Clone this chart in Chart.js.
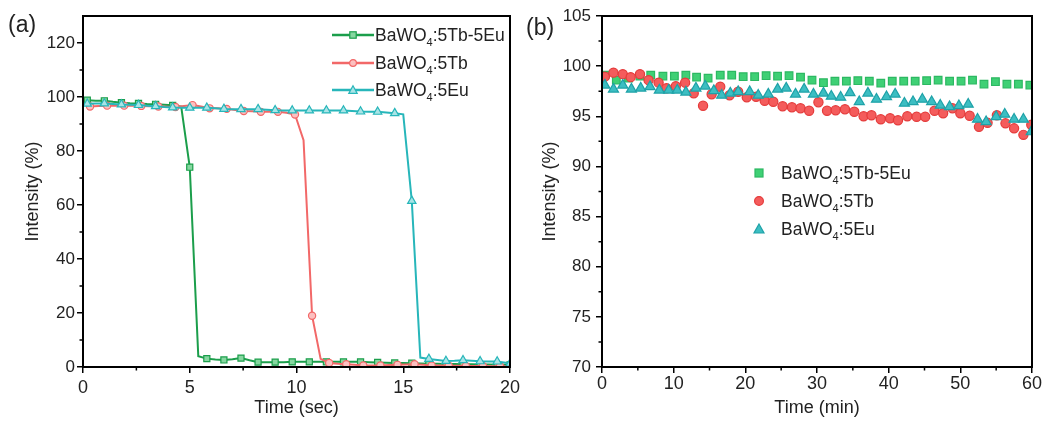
<!DOCTYPE html>
<html>
<head>
<meta charset="utf-8">
<script src="https://cdn.jsdelivr.net/npm/chart.js@4"></script>
<style>
  body { margin: 0; background: #fff; font-family: "Liberation Sans", Arial, sans-serif; }
  #wrap { position: relative; width: 1044px; height: 421px; overflow: hidden; }
  .panel { position: absolute; top: 0; width: 522px; height: 421px; }
  .tag { position: absolute; font-size: 23px; color: #222; }
  .leg { position: absolute; font-size: 17.5px; color: #222; white-space: nowrap; line-height: 20px; }
  .leg svg { vertical-align: middle; }
  .leg span.t { display: inline-block; vertical-align: middle; }
  .leg sub { font-size: 11px; vertical-align: -5px; line-height: 0; }
</style>
</head>
<body>
<div id="wrap">
  <div class="panel" style="left:0"><canvas id="chartA"></canvas></div>
  <div class="panel" style="left:522px"><canvas id="chartB"></canvas></div>
  <div class="tag" style="left:8px;top:11px">(a)</div>
  <div class="tag" style="left:526px;top:14px">(b)</div>
  <div id="legA"></div>
  <div id="legB"></div>
</div>
<script>
// ---- panel (a): switching time, seconds ----
var timeA = [0.2,0.6,1.0,1.4,1.8,2.2,2.6,3.0,3.4,3.8,4.2,4.6,5.0,5.4,5.8,6.2,6.6,7.0,7.4,7.8,
  8.2,8.6,9.0,9.4,9.8,10.2,10.6,11.0,11.4,11.8,12.2,12.6,13.0,13.4,13.8,14.2,14.6,15.0,15.4,15.8,
  16.2,16.6,17.0,17.4,17.8,18.2,18.6,19.0,19.4,19.8,20.0];
var timeRed = [0.33,0.73,1.13,1.53,1.93,2.33,2.73,3.13,3.53,3.93,4.33,4.73,5.13,5.53,5.93,6.33,6.73,7.13,7.53,7.93,
  8.33,8.73,9.13,9.53,9.93,10.33,10.73,11.13,11.53,11.93,12.33,12.73,13.13,13.53,13.93,14.33,14.73,15.13,15.53,15.93,
  16.33,16.73,17.13,17.53,17.93,18.33,18.73,19.13,19.53,19.93];
var tbEuA = [98.8,98.6,98.6,98.2,97.9,97.7,97.6,97.4,97.3,97.1,96.9,96.4,74,4,3.1,2.8,2.6,2.9,3.3,2.5,
  1.8,1.8,1.8,1.8,1.9,1.9,1.9,1.9,1.9,1.9,1.9,1.9,1.9,1.8,1.7,1.6,1.5,1.5,1.4,1.3,
  1.2,1.2,1.1,1.1,1.0,1.0,0.9,0.9,0.8,0.8,0.8];
var tbA = [96.5,96.7,96.8,96.8,96.8,96.8,96.7,96.6,96.5,96.4,96.3,96.7,97.0,96.5,95.8,95.8,95.6,95.2,94.8,94.7,
  94.5,94.5,94.5,94.2,93.5,84,19,3,1.5,1.2,1.0,0.8,0.6,0.6,0.6,0.7,0.8,0.9,1.0,0.8,
  0.6,0.6,0.5,0.5,0.4,0.4,0.4,0.3,0.3,0.3];
var euA = [97.5,97.6,97.6,97.4,97.2,97.1,97.0,96.8,96.6,96.3,96.1,96.0,96.0,96.0,96.0,95.8,95.6,95.5,95.5,95.5,
  95.5,95.3,95.1,95.0,95.0,95.0,95.0,95.0,95.0,95.0,95.0,94.8,94.6,94.5,94.5,94.3,94.0,93.6,61.5,3.5,
  3.0,2.6,2.2,2.3,2.5,2.3,2.1,2.0,2.0,1.6,1.2];

// ---- panel (b): stability, minutes ----
var tbEuTimeB = [0.4,2.0,3.7,5.3,6.8,8.5,10.1,11.7,13.2,14.8,16.5,18.1,19.7,21.3,22.9,24.5,26.1,27.7,29.3,30.9,
  32.5,34.1,35.7,37.3,38.9,40.5,42.1,43.7,45.3,46.9,48.5,50.1,51.7,53.3,54.9,56.5,58.1,59.7];
var tbEuB = [99.1,98.6,98.8,99.0,99.1,99.0,99.0,99.1,98.9,98.8,99.1,99.1,98.95,98.95,99.05,99.0,99.05,98.9,98.6,98.35,
  98.5,98.5,98.55,98.5,98.3,98.5,98.5,98.5,98.55,98.6,98.5,98.5,98.6,98.2,98.45,98.2,98.2,98.1];
var tbTimeB = [0.4,1.6,2.9,4.0,5.3,6.5,7.9,9.0,10.3,11.6,12.8,14.1,15.3,16.5,17.8,19.0,20.2,21.5,22.7,23.9,
  25.2,26.5,27.7,28.9,30.2,31.4,32.6,33.9,35.2,36.5,37.6,38.9,40.2,41.3,42.6,43.9,45.1,46.4,47.6,48.9,
  50.0,51.3,52.6,53.8,55.1,56.3,57.5,58.8,59.9];
var tbB = [98.95,99.35,99.2,98.9,99.2,98.6,98.35,97.8,98.0,98.35,97.3,96.05,97.2,97.95,97.1,97.45,96.9,96.95,96.55,96.45,
  96.0,95.9,95.8,95.55,96.4,95.55,95.6,95.7,95.45,95.0,95.1,94.7,94.8,94.6,95.0,94.95,94.95,95.55,95.3,95.8,
  95.3,95.05,93.95,94.35,95.1,94.3,93.8,93.15,94.15];
var euTimeB = [0.4,1.6,2.9,4.1,5.4,6.7,8.0,9.3,10.5,11.7,13.1,14.4,15.6,16.7,17.9,19.0,20.6,21.8,23.2,24.5,
  25.7,27.0,28.2,29.5,30.9,32.0,33.3,34.6,35.9,37.1,38.3,39.7,40.9,42.2,43.4,44.7,46.0,47.2,48.5,49.8,
  51.1,52.4,53.6,55.0,56.2,57.5,58.8,59.9];
var euB = [98.1,97.7,98.1,97.7,97.8,97.95,97.6,97.6,97.6,97.4,97.8,98.0,97.55,97.1,97.3,97.45,97.45,97.1,97.2,97.7,
  97.8,97.2,97.7,97.2,97.3,97.0,96.9,97.35,96.45,97.3,96.7,96.95,97.2,96.3,96.45,96.7,96.45,96.1,95.95,96.05,
  96.2,94.7,94.45,94.95,95.2,94.7,94.7,93.45];

var names = ['5Tb-5Eu', '5Tb', '5Eu'];

function pts(xs, ys) {
  return ys.map(function(v, i) { return {x: xs[i], y: v}; });
}

var FONT = '"Liberation Sans", Arial, sans-serif';
var INK = '#222';

// minor ticks + closed frame, Origin style
var frame = {
  id: 'frame',
  afterDraw: function(chart, args, opts) {
    var ctx = chart.ctx, a = chart.chartArea;
    var xs = chart.scales.x, ys = chart.scales.y;
    ctx.save();
    ctx.strokeStyle = '#000';
    ctx.lineWidth = 1.5;
    ctx.beginPath();
    for (var v = xs.min + opts.xMinor; v < xs.max; v += opts.xMinor * 2) {
      var p = xs.getPixelForValue(v);
      ctx.moveTo(p, a.bottom); ctx.lineTo(p, a.bottom + 3.5);
    }
    for (var w = ys.min + opts.yMinor; w < ys.max; w += opts.yMinor * 2) {
      var q = ys.getPixelForValue(w);
      ctx.moveTo(a.left, q); ctx.lineTo(a.left - 3.5, q);
    }
    ctx.stroke();
    ctx.lineWidth = 2;
    ctx.strokeRect(a.left, a.top, a.right - a.left, a.bottom - a.top);
    ctx.restore();
  }
};

function axes(o) {
  return {
    x: {
      type: 'linear', min: o.xmin, max: o.xmax,
      ticks: {stepSize: o.xstep, color: INK, font: {family: FONT, size: 18}, padding: o.xPad, includeBounds: false},
      grid: {drawOnChartArea: false, color: '#000', lineWidth: 1.5, tickLength: 6},
      border: {color: '#000', width: 2},
      title: {display: true, text: o.xtitle, color: INK, font: {family: FONT, size: 18}, padding: {top: 0, bottom: 2}},
      afterFit: function(s) { s.height = 54; s.paddingLeft = 0; s.paddingRight = 0; }
    },
    y: {
      type: 'linear', min: o.ymin, max: o.ymax,
      ticks: {stepSize: o.ystep, color: INK, font: {family: FONT, size: 17}, padding: o.yPad, includeBounds: false},
      grid: {drawOnChartArea: false, color: '#000', lineWidth: 1.5, tickLength: 6},
      border: {color: '#000', width: 2},
      title: {display: true, text: 'Intensity (%)', color: INK, font: {family: FONT, size: 18}, padding: {top: o.titlePad, bottom: 0}},
      afterFit: function(s) { s.width = o.yWidth; s.paddingTop = 0; s.paddingBottom = 0; }
    }
  };
}

var lineCol = ['#1b9e4b', '#f26868', '#27b6ba'];
var lineFill = ['#86d7a0', '#fcc0c0', '#a9e4e6'];
var shapes = ['rect', 'circle', 'triangle'];
var radA = [4.3, 3.6, 4.8];

function markerEvery2(r) {
  return function(c) { return c.dataIndex % 2 === 0 ? r : 0; };
}

var seriesA = [pts(timeA, tbEuA), pts(timeRed, tbA), pts(timeA, euA)];

new Chart(document.getElementById('chartA'), {
  type: 'scatter',
  data: {
    datasets: seriesA.map(function(d, i) {
      return {
        label: 'BaWO4:' + names[i],
        data: d,
        showLine: true,
        borderColor: lineCol[i],
        borderWidth: 2,
        pointStyle: shapes[i],
        pointRadius: markerEvery2(radA[i]),
        pointBackgroundColor: lineFill[i],
        pointBorderColor: lineCol[i],
        pointBorderWidth: 1.2,
        order: 3 - i
      };
    })
  },
  options: {
    responsive: true, maintainAspectRatio: false, animation: false, events: [],
    layout: {padding: {top: 16, right: 12, left: 0, bottom: 0}},
    scales: axes({xmin: 0, xmax: 20, xstep: 5, xtitle: 'Time (sec)', xPad: 4,
                  ymin: 0, ymax: 130, ystep: 20, yPad: 2, yWidth: 83, titlePad: 22}),
    plugins: {legend: {display: false}, tooltip: {enabled: false}, frame: {xMinor: 2.5, yMinor: 10}}
  },
  plugins: [frame]
});

var dotFill = ['#3fd075', '#f45c5c', '#3cbec2'];
var dotLine = ['#2cb862', '#e53b3b', '#1ea2a8'];
var radB = [5.4, 4.6, 5.8];
var seriesB = [pts(tbEuTimeB, tbEuB), pts(tbTimeB, tbB), pts(euTimeB, euB)];

new Chart(document.getElementById('chartB'), {
  type: 'scatter',
  data: {
    datasets: seriesB.map(function(d, i) {
      return {
        label: 'BaWO4:' + names[i],
        data: d,
        pointStyle: shapes[i],
        pointRadius: radB[i],
        backgroundColor: dotFill[i],
        borderColor: dotLine[i],
        borderWidth: 1.2,
        order: 3 - i
      };
    })
  },
  options: {
    responsive: true, maintainAspectRatio: false, animation: false, events: [],
    layout: {padding: {top: 16, right: 12, left: 0, bottom: 0}},
    scales: axes({xmin: 0, xmax: 60, xstep: 10, xtitle: 'Time (min)', xPad: 0,
                  ymin: 70, ymax: 105, ystep: 5, yPad: 5, yWidth: 80, titlePad: 17}),
    plugins: {legend: {display: false}, tooltip: {enabled: false}, frame: {xMinor: 5, yMinor: 2.5}}
  },
  plugins: [frame]
});

// legends as html text so the subscript 4 can be set properly
function markerSvg(i, withLine, r, fill, stroke) {
  var w = withLine ? 42 : 16, c = w / 2, s = '';
  if (withLine) s += '<line x1="0" y1="8" x2="' + w + '" y2="8" stroke="' + stroke + '" stroke-width="2.5"/>';
  if (shapes[i] === 'rect') s += '<rect x="' + (c - r) + '" y="' + (8 - r) + '" width="' + 2 * r + '" height="' + 2 * r + '" fill="' + fill + '" stroke="' + stroke + '" stroke-width="1.2"/>';
  if (shapes[i] === 'circle') s += '<circle cx="' + c + '" cy="8" r="' + r + '" fill="' + fill + '" stroke="' + stroke + '" stroke-width="1.2"/>';
  if (shapes[i] === 'triangle') s += '<polygon points="' + c + ',' + (8 - r) + ' ' + (c + r) + ',' + (8 + r * 0.8) + ' ' + (c - r) + ',' + (8 + r * 0.8) + '" fill="' + fill + '" stroke="' + stroke + '" stroke-width="1.2"/>';
  return '<svg width="' + w + '" height="16">' + s + '</svg>';
}

function legend(id, left, tops, withLine, gap, fills, strokes, rs) {
  var html = '';
  names.forEach(function(n, i) {
    html += '<div class="leg" style="left:' + left + 'px;top:' + (tops[i] - 10) + 'px">' +
      markerSvg(i, withLine, rs[i], fills[i], strokes[i]) +
      '<span class="t" style="margin-left:' + gap + 'px">BaWO<sub>4</sub>:' + n + '</span></div>';
  });
  document.getElementById(id).innerHTML = html;
}
legend('legA', 332, [34, 62, 89], true, 1, lineFill, lineCol, [3.2, 3.4, 4.2]);
legend('legB', 751, [172, 200, 228], false, 14, dotFill, dotLine, [4, 4.4, 5]);
</script>
</body>
</html>
